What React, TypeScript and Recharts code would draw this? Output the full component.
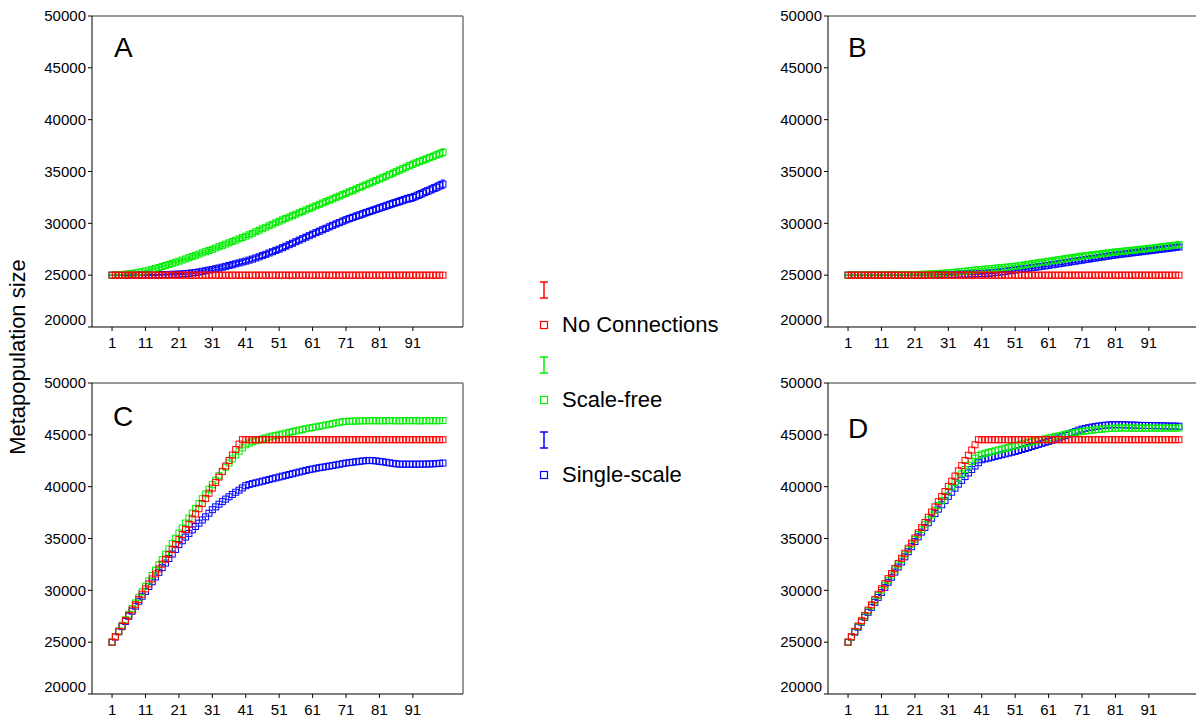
import React from "react";
import { ScatterChart, Scatter, XAxis, YAxis, ErrorBar, ReferenceLine } from "recharts";

const FONT = "Arial, 'Liberation Sans', Helvetica, sans-serif";

const steps = Array.from({ length: 100 }, (_, i) => i + 1);
const xTicks = [1, 11, 21, 31, 41, 51, 61, 71, 81, 91];
const yTicks = [20000, 25000, 30000, 35000, 40000, 45000, 50000];

// Panel A
const aRed = [
  25000, 25000, 25000, 25000, 25000, 25000, 25000, 25000, 25000, 25000,
  25000, 25000, 25000, 25000, 25000, 25000, 25000, 25000, 25000, 25000,
  25000, 25000, 25000, 25000, 25000, 25000, 25000, 25000, 25000, 25000,
  25000, 25000, 25000, 25000, 25000, 25000, 25000, 25000, 25000, 25000,
  25000, 25000, 25000, 25000, 25000, 25000, 25000, 25000, 25000, 25000,
  25000, 25000, 25000, 25000, 25000, 25000, 25000, 25000, 25000, 25000,
  25000, 25000, 25000, 25000, 25000, 25000, 25000, 25000, 25000, 25000,
  25000, 25000, 25000, 25000, 25000, 25000, 25000, 25000, 25000, 25000,
  25000, 25000, 25000, 25000, 25000, 25000, 25000, 25000, 25000, 25000,
  25000, 25000, 25000, 25000, 25000, 25000, 25000, 25000, 25000, 25000,
];
const aGreen = [
  25000, 25010, 25030, 25060, 25090, 25130, 25170, 25220, 25270, 25330,
  25400, 25480, 25560, 25650, 25740, 25830, 25930, 26030, 26140, 26240,
  26350, 26460, 26570, 26680, 26800, 26910, 27030, 27150, 27260, 27380,
  27500, 27620, 27750, 27870, 28000, 28120, 28250, 28370, 28500, 28630,
  28760, 28900, 29040, 29190, 29330, 29480, 29620, 29770, 29910, 30060,
  30200, 30340, 30470, 30610, 30740, 30880, 31020, 31150, 31290, 31420,
  31560, 31690, 31830, 31960, 32100, 32230, 32360, 32500, 32630, 32770,
  32900, 33040, 33170, 33310, 33450, 33590, 33720, 33860, 34000, 34130,
  34270, 34410, 34550, 34700, 34840, 34980, 35130, 35270, 35420, 35560,
  35700, 35830, 35960, 36080, 36210, 36340, 36460, 36590, 36720, 36850,
];
const aBlue = [
  25000, 25000, 25000, 25000, 25000, 25000, 25000, 25000, 25010, 25010,
  25010, 25020, 25020, 25030, 25040, 25050, 25060, 25070, 25080, 25090,
  25100, 25120, 25150, 25180, 25220, 25260, 25310, 25370, 25430, 25490,
  25550, 25620, 25690, 25770, 25850, 25930, 26010, 26100, 26180, 26270,
  26350, 26450, 26550, 26660, 26770, 26890, 27010, 27140, 27260, 27390,
  27510, 27650, 27790, 27940, 28080, 28230, 28380, 28520, 28670, 28810,
  28960, 29100, 29240, 29380, 29520, 29660, 29800, 29940, 30070, 30210,
  30340, 30460, 30570, 30690, 30800, 30910, 31030, 31140, 31250, 31360,
  31470, 31580, 31690, 31800, 31910, 32010, 32120, 32230, 32340, 32420,
  32500, 32640, 32780, 32920, 33060, 33200, 33340, 33480, 33630, 33780,
];
const aGreenErr = [
  10, 10, 10, 20, 20, 20, 20, 30, 30, 30,
  30, 40, 40, 40, 50, 50, 50, 60, 60, 60,
  70, 70, 70, 80, 80, 80, 90, 90, 90, 100,
  100, 100, 110, 110, 110, 120, 120, 120, 130, 130,
  130, 140, 140, 140, 150, 150, 150, 160, 160, 160,
  170, 170, 170, 180, 180, 180, 190, 190, 190, 200,
  200, 200, 210, 210, 210, 220, 220, 220, 230, 230,
  230, 240, 240, 240, 250, 250, 250, 260, 260, 260,
  270, 270, 270, 280, 280, 280, 290, 290, 290, 300,
  300, 300, 310, 310, 310, 320, 320, 320, 330, 340,
];
const aBlueErr = [
  10, 10, 10, 10, 10, 10, 20, 20, 20, 20,
  20, 30, 30, 30, 30, 40, 40, 40, 50, 50,
  60, 60, 70, 70, 80, 80, 90, 90, 100, 100,
  110, 110, 120, 120, 130, 130, 140, 140, 150, 150,
  160, 160, 170, 170, 180, 180, 190, 190, 200, 200,
  210, 210, 220, 220, 230, 230, 240, 240, 250, 250,
  260, 260, 270, 270, 280, 280, 290, 290, 300, 300,
  300, 310, 310, 310, 320, 320, 320, 330, 330, 330,
  340, 340, 340, 350, 350, 350, 360, 360, 360, 370,
  370, 370, 380, 380, 380, 390, 390, 390, 400, 400,
];

// Panel B
const bRed = aRed;
const bGreen = [
  25000, 25000, 25000, 25000, 25010, 25010, 25010, 25010, 25020, 25020,
  25020, 25020, 25030, 25030, 25030, 25040, 25040, 25040, 25050, 25050,
  25060, 25070, 25080, 25090, 25100, 25120, 25140, 25160, 25180, 25200,
  25230, 25260, 25290, 25320, 25350, 25380, 25420, 25460, 25490, 25520,
  25550, 25580, 25610, 25640, 25670, 25700, 25730, 25760, 25790, 25820,
  25860, 25900, 25950, 26000, 26050, 26100, 26150, 26200, 26250, 26290,
  26340, 26390, 26440, 26490, 26540, 26590, 26640, 26690, 26740, 26790,
  26830, 26870, 26910, 26950, 26990, 27030, 27070, 27110, 27150, 27200,
  27240, 27270, 27300, 27340, 27370, 27400, 27440, 27470, 27510, 27540,
  27580, 27620, 27660, 27700, 27740, 27780, 27820, 27860, 27900, 27950,
];
const bBlue = [
  25000, 25000, 25000, 25000, 25000, 25000, 25000, 25000, 25000, 25000,
  25000, 25000, 25010, 25010, 25010, 25010, 25020, 25020, 25020, 25020,
  25030, 25030, 25030, 25040, 25040, 25040, 25050, 25050, 25060, 25060,
  25070, 25070, 25080, 25090, 25090, 25100, 25110, 25120, 25130, 25140,
  25150, 25170, 25190, 25220, 25250, 25280, 25320, 25360, 25410, 25450,
  25500, 25540, 25590, 25630, 25680, 25720, 25770, 25810, 25860, 25900,
  25950, 26000, 26050, 26100, 26150, 26200, 26250, 26300, 26350, 26400,
  26450, 26500, 26550, 26600, 26650, 26700, 26750, 26800, 26850, 26900,
  26950, 26990, 27030, 27070, 27110, 27150, 27190, 27230, 27270, 27310,
  27350, 27390, 27430, 27470, 27510, 27550, 27590, 27630, 27680, 27720,
];
const bGreenErr = [
  10, 10, 10, 10, 10, 10, 10, 10, 20, 20,
  20, 20, 20, 20, 20, 30, 30, 30, 30, 30,
  30, 40, 40, 40, 40, 50, 50, 50, 50, 60,
  60, 60, 60, 70, 70, 70, 70, 80, 80, 80,
  80, 90, 90, 90, 90, 100, 100, 100, 100, 110,
  110, 110, 110, 120, 120, 120, 120, 130, 130, 130,
  130, 140, 140, 140, 140, 150, 150, 150, 150, 160,
  160, 160, 160, 170, 170, 170, 170, 180, 180, 180,
  180, 190, 190, 190, 190, 200, 200, 200, 200, 210,
  210, 210, 210, 220, 220, 220, 230, 230, 240, 250,
];
const bBlueErr = [
  10, 10, 10, 10, 10, 10, 10, 10, 10, 10,
  10, 10, 10, 10, 10, 10, 10, 10, 10, 10,
  20, 20, 20, 20, 20, 20, 20, 20, 20, 20,
  30, 30, 30, 30, 30, 30, 40, 40, 40, 40,
  50, 50, 50, 50, 60, 60, 60, 60, 70, 70,
  70, 70, 80, 80, 80, 80, 90, 90, 90, 90,
  100, 100, 100, 100, 110, 110, 110, 110, 120, 120,
  120, 120, 130, 130, 130, 130, 140, 140, 140, 140,
  150, 150, 150, 150, 160, 160, 160, 160, 170, 170,
  170, 170, 180, 180, 180, 180, 190, 190, 190, 200,
];

// Panel C
const cRed = [
  25000, 25520, 26040, 26560, 27080, 27590, 28100, 28610, 29120, 29630,
  30140, 30620, 31100, 31580, 32060, 32530, 33000, 33470, 33940, 34410,
  34890, 35380, 35870, 36370, 36870, 37370, 37870, 38370, 38870, 39370,
  39870, 40400, 40930, 41460, 41990, 42520, 43050, 43580, 44110, 44530,
  44530, 44530, 44530, 44530, 44530, 44530, 44530, 44530, 44530, 44530,
  44530, 44530, 44530, 44530, 44530, 44530, 44530, 44530, 44530, 44530,
  44530, 44530, 44530, 44530, 44530, 44530, 44530, 44530, 44530, 44530,
  44530, 44530, 44530, 44530, 44530, 44530, 44530, 44530, 44530, 44530,
  44530, 44530, 44530, 44530, 44530, 44530, 44530, 44530, 44530, 44530,
  44530, 44530, 44530, 44530, 44530, 44530, 44530, 44530, 44530, 44530,
];
const cGreen = [
  25000, 25540, 26080, 26620, 27160, 27700, 28240, 28780, 29320, 29860,
  30390, 30910, 31430, 31950, 32470, 32980, 33490, 34000, 34510, 35020,
  35530, 36010, 36490, 36970, 37440, 37910, 38380, 38840, 39300, 39750,
  40190, 40620, 41050, 41470, 41880, 42280, 42680, 43060, 43420, 43740,
  44040, 44200, 44320, 44420, 44520, 44610, 44700, 44790, 44880, 44950,
  45000, 45080, 45160, 45240, 45310, 45380, 45450, 45520, 45590, 45650,
  45710, 45770, 45830, 45890, 45950, 46010, 46080, 46150, 46210, 46260,
  46290, 46310, 46320, 46330, 46340, 46350, 46350, 46360, 46360, 46360,
  46360, 46350, 46360, 46370, 46360, 46360, 46350, 46360, 46360, 46370,
  46360, 46360, 46350, 46360, 46360, 46370, 46360, 46360, 46370, 46380,
];
const cBlue = [
  25000, 25500, 26000, 26500, 27000, 27500, 27990, 28470, 28950, 29430,
  29900, 30370, 30830, 31290, 31740, 32190, 32630, 33070, 33500, 33950,
  34410, 34780, 35140, 35490, 35830, 36160, 36480, 36790, 37090, 37440,
  37780, 38050, 38310, 38560, 38800, 39030, 39250, 39460, 39660, 39880,
  40090, 40200, 40290, 40370, 40450, 40530, 40610, 40690, 40770, 40850,
  40930, 41010, 41090, 41170, 41250, 41330, 41410, 41490, 41570, 41640,
  41700, 41770, 41830, 41880, 41930, 41990, 42040, 42100, 42160, 42220,
  42280, 42320, 42360, 42400, 42440, 42480, 42510, 42530, 42510, 42480,
  42440, 42400, 42350, 42300, 42250, 42200, 42180, 42170, 42170, 42170,
  42170, 42170, 42170, 42180, 42180, 42190, 42200, 42220, 42250, 42280,
];

// Panel D
const dRed = [
  25000, 25520, 26040, 26560, 27070, 27580, 28090, 28600, 29110, 29630,
  30150, 30640, 31130, 31620, 32110, 32600, 33090, 33580, 34070, 34560,
  35050, 35550, 36050, 36550, 37050, 37550, 38050, 38550, 39040, 39530,
  40030, 40530, 41030, 41530, 42030, 42530, 43030, 43530, 44040, 44530,
  44530, 44530, 44530, 44530, 44530, 44530, 44530, 44530, 44530, 44530,
  44530, 44530, 44530, 44530, 44530, 44530, 44530, 44530, 44530, 44530,
  44530, 44530, 44530, 44530, 44530, 44530, 44530, 44530, 44530, 44530,
  44530, 44530, 44530, 44530, 44530, 44530, 44530, 44530, 44530, 44530,
  44530, 44530, 44530, 44530, 44530, 44530, 44530, 44530, 44530, 44530,
  44530, 44530, 44530, 44530, 44530, 44530, 44530, 44530, 44530, 44530,
];
const dGreen = [
  25000, 25500, 26000, 26500, 27000, 27500, 28000, 28500, 29000, 29500,
  30000, 30490, 30980, 31470, 31960, 32450, 32940, 33430, 33920, 34410,
  34900, 35380, 35860, 36330, 36800, 37260, 37720, 38180, 38640, 39100,
  39550, 39980, 40400, 40820, 41240, 41650, 42050, 42420, 42750, 43000,
  43140, 43220, 43300, 43380, 43460, 43540, 43620, 43700, 43780, 43860,
  43950, 44030, 44110, 44190, 44260, 44330, 44400, 44480, 44550, 44620,
  44690, 44760, 44830, 44900, 44970, 45040, 45110, 45170, 45230, 45280,
  45330, 45370, 45410, 45450, 45490, 45520, 45550, 45580, 45610, 45630,
  45650, 45650, 45660, 45660, 45650, 45650, 45640, 45650, 45650, 45660,
  45650, 45650, 45650, 45640, 45650, 45650, 45660, 45650, 45650, 45660,
];
const dBlue = [
  25000, 25480, 25960, 26440, 26920, 27400, 27880, 28360, 28840, 29320,
  29800, 30290, 30780, 31270, 31760, 32250, 32740, 33230, 33720, 34210,
  34700, 35160, 35620, 36070, 36520, 36960, 37400, 37830, 38250, 38660,
  39070, 39470, 39860, 40240, 40610, 40970, 41320, 41660, 41990, 42310,
  42600, 42680, 42760, 42840, 42920, 43000, 43080, 43160, 43240, 43320,
  43400, 43490, 43580, 43680, 43780, 43880, 43980, 44080, 44180, 44280,
  44370, 44480, 44590, 44700, 44820, 44940, 45070, 45200, 45330, 45450,
  45550, 45620, 45690, 45750, 45800, 45850, 45890, 45930, 45950, 45970,
  45970, 45980, 45970, 45960, 45950, 45940, 45930, 45920, 45910, 45900,
  45900, 45890, 45880, 45880, 45870, 45860, 45850, 45850, 45840, 45830,
];

const RED = "#ff0000";
const GREEN = "#00ee00";
const BLUE = "#0000ff";

const legendItems = [
  { label: "No Connections", color: RED },
  { label: "Scale-free", color: GREEN },
  { label: "Single-scale", color: BLUE },
];

function toPoints(vals: number[], errs?: number[]) {
  return steps.map((x, i) => ({ x, y: vals[i], e: errs ? errs[i] : 0 }));
}

const squareShape = (color: string) => (p: any) => (
  <rect x={p.cx - 3} y={p.cy - 3} width={6} height={6} fill="none" stroke={color} strokeWidth={1} />
);

const YTick = (p: any) => (
  <text
    x={p.x}
    y={p.payload.value === 20000 ? p.y - 7 : p.y}
    dy="0.355em"
    textAnchor="end"
    fill="#000"
    fontSize={15}
    fontFamily={FONT}
  >
    {p.payload.value}
  </text>
);

interface PanelProps {
  left: number;
  top: number;
  red: number[];
  green: number[];
  blue: number[];
  greenErr?: number[];
  blueErr?: number[];
}

function Panel({ left, top, red, green, blue, greenErr, blueErr }: PanelProps) {
  return (
    <div style={{ position: "absolute", left: left - 92, top: top - 16, width: 480, height: 360 }}>
      <ScatterChart width={480} height={360} margin={{ top: 16, right: 17, bottom: 3, left: 32 }}>
        <XAxis
          type="number"
          dataKey="x"
          domain={[-5, 106]}
          ticks={xTicks}
          allowDataOverflow
          stroke="#000"
          tickSize={4}
          tickMargin={6}
          tick={{ fill: "#000", fontSize: 15, fontFamily: FONT }}
        />
        <YAxis
          type="number"
          dataKey="y"
          domain={[20000, 50000]}
          ticks={yTicks}
          allowDataOverflow
          width={60}
          stroke="#000"
          tickSize={4}
          tick={YTick}
        />
        <ReferenceLine y={50000} stroke="#777" strokeWidth={1.5} />
        <ReferenceLine x={106} stroke="#777" strokeWidth={1.5} />
        <Scatter data={toPoints(blue, blueErr)} shape={squareShape(BLUE)} isAnimationActive={false}>
          {blueErr && <ErrorBar dataKey="e" direction="y" width={2} stroke={BLUE} strokeWidth={1} />}
        </Scatter>
        <Scatter data={toPoints(green, greenErr)} shape={squareShape(GREEN)} isAnimationActive={false}>
          {greenErr && <ErrorBar dataKey="e" direction="y" width={2} stroke={GREEN} strokeWidth={1} />}
        </Scatter>
        <Scatter data={toPoints(red)} shape={squareShape(RED)} isAnimationActive={false} />
      </ScatterChart>
    </div>
  );
}

function Letter({ text, left, baseline }: { text: string; left: number; baseline: number }) {
  return (
    <div
      style={{
        position: "absolute",
        left,
        top: baseline - 23.7,
        fontSize: 28,
        lineHeight: "28px",
        fontFamily: FONT,
        color: "#000",
      }}
    >
      {text}
    </div>
  );
}

function LegendMark({ color, cx, cy }: { color: string; cx: number; cy: number }) {
  return (
    <svg style={{ position: "absolute", left: cx - 6, top: cy - 9 }} width={12} height={54}>
      <line x1={6} y1={1} x2={6} y2={17} stroke={color} strokeWidth={1.5} />
      <line x1={2} y1={1} x2={10} y2={1} stroke={color} strokeWidth={1.5} />
      <line x1={2} y1={17} x2={10} y2={17} stroke={color} strokeWidth={1.5} />
      <rect x={2.5} y={40.5} width={7} height={7} fill="none" stroke={color} strokeWidth={1.2} />
    </svg>
  );
}

export default function App() {
  const legendY = [290, 365, 440];
  return (
    <div
      style={{
        position: "absolute",
        left: 0,
        top: 0,
        width: 1196,
        height: 720,
        overflow: "hidden",
        background: "#fff",
        fontFamily: FONT,
      }}
    >
      <Panel left={92} top={16} red={aRed} green={aGreen} blue={aBlue} greenErr={aGreenErr} blueErr={aBlueErr} />
      <Panel left={828} top={16} red={bRed} green={bGreen} blue={bBlue} greenErr={bGreenErr} blueErr={bBlueErr} />
      <Panel left={92} top={383} red={cRed} green={cGreen} blue={cBlue} />
      <Panel left={828} top={383} red={dRed} green={dGreen} blue={dBlue} />

      <Letter text="A" left={114} baseline={58} />
      <Letter text="B" left={848} baseline={58} />
      <Letter text="C" left={113} baseline={427} />
      <Letter text="D" left={848} baseline={439} />

      {legendItems.map((item, i) => (
        <React.Fragment key={item.label}>
          <LegendMark color={item.color} cx={544} cy={legendY[i]} />
          <div
            style={{
              position: "absolute",
              left: 562,
              top: legendY[i] + 35 - 13,
              fontSize: 22,
              lineHeight: "26px",
              color: "#000",
              whiteSpace: "nowrap",
            }}
          >
            {item.label}
          </div>
        </React.Fragment>
      ))}

      <div
        style={{
          position: "absolute",
          left: 18 - 150,
          top: 357 - 11,
          width: 300,
          height: 22,
          lineHeight: "22px",
          fontSize: 22,
          textAlign: "center",
          transform: "rotate(-90deg)",
          color: "#000",
          whiteSpace: "nowrap",
        }}
      >
        Metapopulation size
      </div>
    </div>
  );
}
